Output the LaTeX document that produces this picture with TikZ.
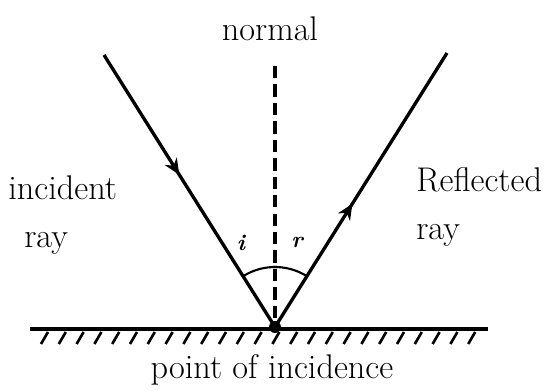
\documentclass[tikz,border=0pt]{standalone}
\usetikzlibrary{decorations.markings,arrows.meta}
\tikzset{
  ray/.style={line width=1.9pt, postaction={decorate},
    decoration={markings, mark=at position #1 with {\arrow{Stealth[length=9pt,width=8pt]}}}},
  mirror/.style={line width=2pt},
  hatch/.style={line width=1.5pt},
  lbl/.style={font=\fontsize{19.5}{23}\selectfont, inner sep=0pt},
  anglbl/.style={font=\fontsize{13}{15}\selectfont\bfseries\itshape, inner sep=0pt}
}
\begin{document}
\begin{tikzpicture}[x=0.02cm,y=-0.02cm]
  \useasboundingbox (0,0) rectangle (558,392);
  % mirror and hatching
  \coordinate (O) at (275,327);
  \coordinate (ml) at (30,329);
  \coordinate (mr) at (488,329);
  \draw [mirror] (ml) -- (mr);
  \foreach \k in {0,...,24}
    \draw [hatch] (48+\k*17.8,332) -- ++(-7,12);
  % rays and normal
  \coordinate (src) at (104,55);
  \coordinate (dst) at (447,53);
  \coordinate (ntop) at (275,66);
  \draw [ray=0.44] (src) -- (O);
  \draw [ray=0.45] (O) -- (dst);
  \draw [line width=2pt, dash pattern=on 7pt off 3.5pt] (ntop) -- (O);
  \fill (O) circle (6);
  % angles
  \draw [line width=1.2pt] (O) ++(-122.3:60) arc (-122.3:-88:60);
  \draw [line width=1.2pt] (O) ++(-57.7:60) arc (-57.7:-92:60);
  \node [anglbl] (ai) at (241,243) {i};
  \node [anglbl] (ar) at (297,242) {r};
  % labels
  \node [lbl] (nlbl) at (270,29) {normal};
  \node [lbl, anchor=west] (inc1) at (8,188) {incident};
  \node [lbl, anchor=west] (inc2) at (24,243) {ray};
  \node [lbl, anchor=west] (ref1) at (416,180) {Reflected};
  \node [lbl, anchor=west] (ref2) at (416,235) {ray};
  \node [lbl] (poi) at (272,370) {point of incidence};
\end{tikzpicture}
\end{document}
